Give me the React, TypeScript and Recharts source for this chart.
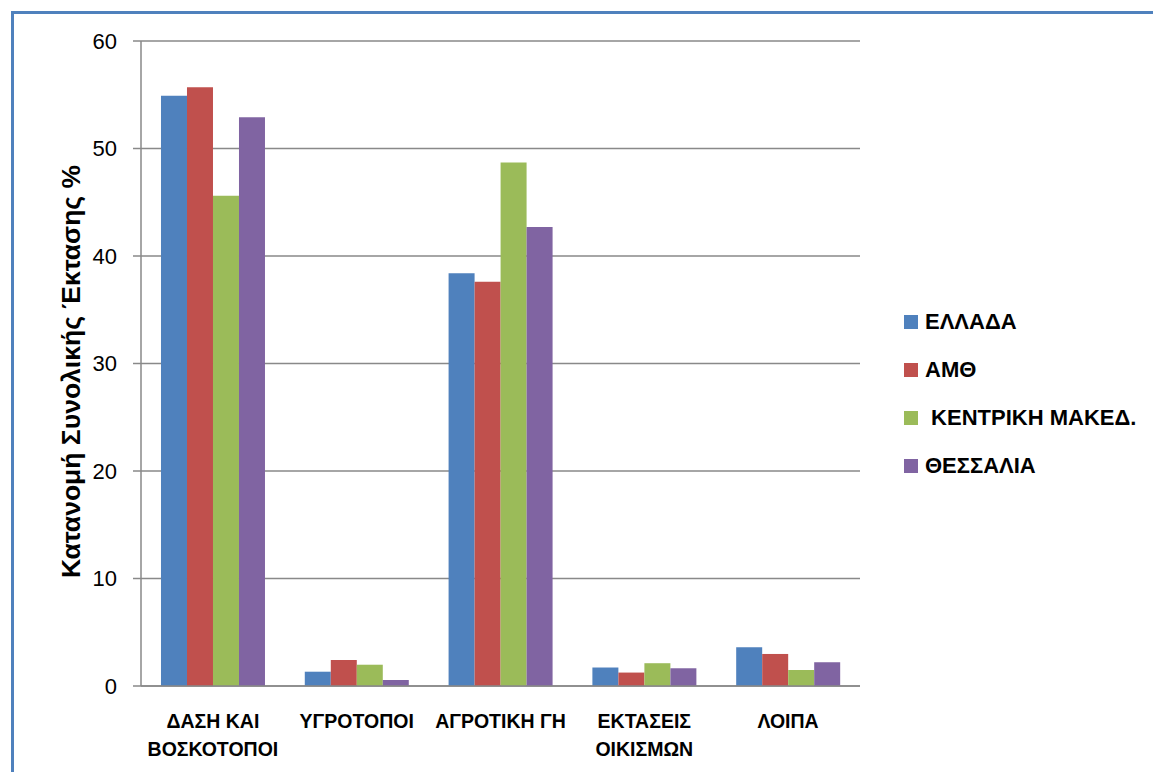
import React from 'react';
import { BarChart, Bar, XAxis, YAxis, CartesianGrid, Legend, Label } from 'recharts';

// Land-use categories (two-line labels split on "\n")
const categories = ['ΔΑΣΗ ΚΑΙ\nΒΟΣΚΟΤΟΠΟΙ', 'ΥΓΡΟΤΟΠΟΙ', 'ΑΓΡΟΤΙΚΗ ΓΗ', 'ΕΚΤΑΣΕΙΣ\nΟΙΚΙΣΜΩΝ', 'ΛΟΙΠΑ'];

// Share of total area (%) per region
const ellada = [54.9, 1.33, 38.4, 1.72, 3.6];
const amth = [55.7, 2.42, 37.6, 1.25, 2.98];
const kentrikiMaked = [45.6, 1.98, 48.7, 2.12, 1.49];
const thessalia = [52.9, 0.56, 42.7, 1.65, 2.21];

const yTicks = [0, 10, 20, 30, 40, 50, 60];

const seriesNames = ['ΕΛΛΑΔΑ', 'ΑΜΘ', ' ΚΕΝΤΡΙΚΗ ΜΑΚΕΔ.', 'ΘΕΣΣΑΛΙΑ'];
const seriesKeys = ['ellada', 'amth', 'kentriki', 'thessalia'];
const seriesColors = ['#4F81BD', '#C0504D', '#9BBB59', '#8064A2'];

const data = categories.map((name, i) => ({
  name,
  ellada: ellada[i],
  amth: amth[i],
  kentriki: kentrikiMaked[i],
  thessalia: thessalia[i],
}));

const FONT = '"Liberation Sans", Arial, sans-serif';
const AXIS_GRAY = '#898989';
const LEGEND_WIDTH = 249;

const CategoryTick = (props: any) => {
  const { x, y, payload } = props;
  const lines = String(payload.value).split('\n');
  return (
    <text
      x={x}
      y={y}
      textAnchor="middle"
      fontFamily={FONT}
      fontWeight="bold"
      fontSize={19.5}
      fill="#000"
    >
      {lines.map((line, i) => (
        <tspan key={i} x={x} dy={i === 0 ? 42 : 28}>
          {line}
        </tspan>
      ))}
    </text>
  );
};

const YAxisTitle = (props: any) => {
  const { viewBox } = props;
  const cx = 71;
  const cy = viewBox.y + viewBox.height / 2 + 8;
  return (
    <text
      x={cx}
      y={cy}
      transform={`rotate(-90, ${cx}, ${cy})`}
      textAnchor="middle"
      dominantBaseline="central"
      fontFamily={FONT}
      fontWeight="bold"
      fontSize={26.5}
      fill="#000"
    >
      Κατανομή Συνολικής Έκτασης %
    </text>
  );
};

const LegendContent = () => (
  <div style={{ fontFamily: FONT, width: LEGEND_WIDTH }}>
    {seriesNames.map((n, i) => (
      <div key={n} style={{ height: 48, display: 'flex', alignItems: 'center' }}>
        <span
          style={{
            width: 14,
            height: 14,
            background: seriesColors[i],
            display: 'inline-block',
            marginRight: 7,
          }}
        />
        <span style={{ fontWeight: 'bold', fontSize: 22, color: '#000', whiteSpace: 'pre' }}>{n}</span>
      </div>
    ))}
  </div>
);

export default function App() {
  return (
    <div style={{ position: 'absolute', left: 0, top: 0, width: 1153, height: 772, background: '#fff' }}>
      <div
        style={{
          position: 'absolute',
          left: 11,
          top: 11,
          right: 0,
          bottom: 0,
          borderTop: '3px solid #4F81BD',
          borderLeft: '3px solid #4F81BD',
        }}
      />
      <BarChart
        width={1153}
        height={772}
        data={data}
        margin={{ top: 41, right: 293 - LEGEND_WIDTH, bottom: 0, left: 0 }}
        barCategoryGap="13.9%"
        barGap={0}
        style={{ position: 'absolute', left: 0, top: 0 }}
      >
        <CartesianGrid vertical={false} stroke={AXIS_GRAY} strokeWidth={1.5} />
        <XAxis
          dataKey="name"
          height={86}
          tickLine={false}
          tickSize={0}
          tickMargin={0}
          interval={0}
          axisLine={{ stroke: AXIS_GRAY, strokeWidth: 1.5 }}
          tick={<CategoryTick />}
        />
        <YAxis
          width={141}
          domain={[0, 60]}
          ticks={yTicks}
          tickSize={8}
          tickMargin={16}
          axisLine={{ stroke: AXIS_GRAY, strokeWidth: 1.5 }}
          tickLine={{ stroke: AXIS_GRAY, strokeWidth: 1.5 }}
          tick={{ fontFamily: FONT, fontSize: 22, fill: '#000' }}
        >
          <Label content={<YAxisTitle />} />
        </YAxis>
        <Legend
          layout="vertical"
          align="right"
          verticalAlign="top"
          wrapperStyle={{ left: 904, top: 298, width: LEGEND_WIDTH }}
          content={<LegendContent />}
        />
        {seriesKeys.map((k, i) => (
          <Bar key={k} dataKey={k} name={seriesNames[i]} fill={seriesColors[i]} isAnimationActive={false} />
        ))}
      </BarChart>
    </div>
  );
}
